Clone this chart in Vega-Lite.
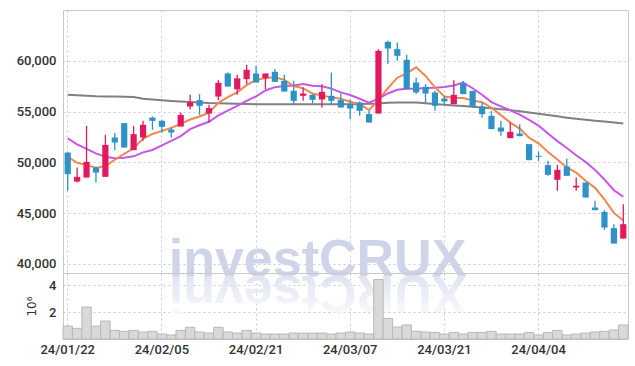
{
  "$schema": "https://vega.github.io/schema/vega-lite/v6.json",
  "padding": {"left": 12, "top": 9, "right": 8, "bottom": 0},
  "background": "white",
  "spacing": 0,
  "bounds": "flush",
  "config": {
    "view": {"stroke": "#c8c8c8", "strokeWidth": 1},
    "axis": {"labelFont": "Roboto", "labelFontSize": 13, "labelColor": "#333333", "labelFontWeight": 500, "gridColor": "#c5c9de", "gridDash": [2, 3], "gridWidth": 1, "ticks": false, "domain": false, "titleFont": "DejaVu Sans", "titleColor": "#333333"}
  },
  "datasets": {
    "k": [
      {"d":"24/01/22","o":50963,"h":51000,"l":47190,"c":48835,"v":960000,"m5":50550,"m10":52360,"g":56650},
      {"d":"24/01/23","o":48107,"h":49485,"l":48008,"c":48570,"v":790000,"m5":49950,"m10":51770,"g":56600},
      {"d":"24/01/24","o":48503,"h":53593,"l":48503,"c":50047,"v":2370000,"m5":49750,"m10":51330,"g":56560},
      {"d":"24/01/25","o":49485,"h":49584,"l":48008,"c":48993,"v":960000,"m5":49450,"m10":50880,"g":56500},
      {"d":"24/01/26","o":48570,"h":52707,"l":48570,"c":51721,"v":1330000,"m5":49633,"m10":50540,"g":56480},
      {"d":"24/01/29","o":52441,"h":52875,"l":51200,"c":51948,"v":640000,"m5":50256,"m10":50410,"g":56470},
      {"d":"24/01/30","o":53860,"h":53860,"l":51456,"c":51456,"v":570000,"m5":50833,"m10":50440,"g":56460},
      {"d":"24/01/31","o":51200,"h":53564,"l":51200,"c":52776,"v":640000,"m5":51379,"m10":50590,"g":56440},
      {"d":"24/02/01","o":52441,"h":54085,"l":52116,"c":53692,"v":520000,"m5":52319,"m10":50980,"g":56250},
      {"d":"24/02/02","o":54410,"h":54510,"l":53199,"c":54086,"v":570000,"m5":52792,"m10":51212,"g":56180},
      {"d":"24/02/05","o":54086,"h":54184,"l":52904,"c":53495,"v":370000,"m5":53101,"m10":51678,"g":56120},
      {"d":"24/02/06","o":53229,"h":53426,"l":52441,"c":52933,"v":300000,"m5":53396,"m10":52115,"g":56050},
      {"d":"24/02/07","o":53524,"h":54903,"l":53524,"c":54677,"v":640000,"m5":53777,"m10":52578,"g":55990},
      {"d":"24/02/08","o":55494,"h":56647,"l":55238,"c":55888,"v":870000,"m5":54216,"m10":53267,"g":55950},
      {"d":"24/02/13","o":56124,"h":56716,"l":54677,"c":55563,"v":520000,"m5":54511,"m10":53651,"g":55900},
      {"d":"24/02/14","o":54805,"h":55662,"l":53918,"c":55337,"v":440000,"m5":54880,"m10":53990,"g":55840},
      {"d":"24/02/15","o":56479,"h":58094,"l":56124,"c":57829,"v":870000,"m5":55859,"m10":54628,"g":55810},
      {"d":"24/02/16","o":58746,"h":58844,"l":57466,"c":57466,"v":520000,"m5":56417,"m10":55097,"g":55790},
      {"d":"24/02/19","o":57188,"h":58617,"l":56648,"c":58272,"v":440000,"m5":56893,"m10":55555,"g":55770},
      {"d":"24/02/20","o":58193,"h":59602,"l":57700,"c":59109,"v":640000,"m5":57603,"m10":56057,"g":55750},
      {"d":"24/02/21","o":58746,"h":59503,"l":57860,"c":57860,"v":440000,"m5":58107,"m10":56493,"g":55730},
      {"d":"24/02/22","o":58292,"h":58746,"l":57208,"c":58746,"v":370000,"m5":58291,"m10":57075,"g":55730},
      {"d":"24/02/23","o":58912,"h":59178,"l":57927,"c":57927,"v":370000,"m5":58383,"m10":57400,"g":55720},
      {"d":"24/02/26","o":58025,"h":58617,"l":56971,"c":56971,"v":370000,"m5":58123,"m10":57508,"g":55720},
      {"d":"24/02/27","o":57040,"h":58025,"l":55730,"c":56055,"v":440000,"m5":57512,"m10":57557,"g":55720},
      {"d":"24/02/28","o":56548,"h":57366,"l":56055,"c":56775,"v":440000,"m5":57295,"m10":57701,"g":55720},
      {"d":"24/02/29","o":56647,"h":56700,"l":55790,"c":56154,"v":440000,"m5":56776,"m10":57534,"g":55720},
      {"d":"24/03/04","o":56184,"h":57700,"l":55396,"c":56942,"v":440000,"m5":56579,"m10":57481,"g":55720},
      {"d":"24/03/05","o":56548,"h":58843,"l":55730,"c":56055,"v":370000,"m5":56396,"m10":57259,"g":55720},
      {"d":"24/03/06","o":56124,"h":56775,"l":55396,"c":55396,"v":440000,"m5":56264,"m10":56888,"g":55720},
      {"d":"24/03/07","o":55730,"h":56223,"l":54253,"c":55297,"v":520000,"m5":55969,"m10":56632,"g":55730},
      {"d":"24/03/08","o":55888,"h":56000,"l":54578,"c":55070,"v":440000,"m5":55752,"m10":56264,"g":55750},
      {"d":"24/03/11","o":54746,"h":55070,"l":53918,"c":53918,"v":370000,"m5":55147,"m10":55863,"g":55770},
      {"d":"24/03/12","o":54805,"h":61148,"l":54805,"c":60980,"v":4420000,"m5":56132,"m10":56264,"g":55800},
      {"d":"24/03/13","o":61867,"h":61966,"l":59670,"c":61207,"v":1530000,"m5":57294,"m10":56779,"g":55860},
      {"d":"24/03/14","o":61148,"h":61798,"l":59996,"c":60488,"v":890000,"m5":58333,"m10":57151,"g":55890},
      {"d":"24/03/15","o":60094,"h":60587,"l":57208,"c":57208,"v":1040000,"m5":58760,"m10":57256,"g":55890},
      {"d":"24/03/18","o":57860,"h":58351,"l":56716,"c":56875,"v":570000,"m5":59352,"m10":57249,"g":55880},
      {"d":"24/03/19","o":57434,"h":57700,"l":55888,"c":56775,"v":520000,"m5":58511,"m10":57321,"g":55820},
      {"d":"24/03/20","o":56873,"h":57040,"l":55070,"c":55563,"v":490000,"m5":57382,"m10":57338,"g":55740},
      {"d":"24/03/21","o":56283,"h":56548,"l":55632,"c":55987,"v":370000,"m5":56482,"m10":57407,"g":55670},
      {"d":"24/03/22","o":55730,"h":58094,"l":55730,"c":56647,"v":490000,"m5":56369,"m10":57565,"g":55600},
      {"d":"24/03/25","o":57761,"h":58000,"l":56716,"c":56716,"v":370000,"m5":56338,"m10":57845,"g":55540},
      {"d":"24/03/26","o":57040,"h":57040,"l":55400,"c":55494,"v":490000,"m5":56081,"m10":57296,"g":55470},
      {"d":"24/03/27","o":55494,"h":55888,"l":54411,"c":54746,"v":490000,"m5":55918,"m10":56650,"g":55400},
      {"d":"24/03/28","o":54578,"h":55070,"l":53268,"c":53268,"v":570000,"m5":55374,"m10":55928,"g":55320},
      {"d":"24/03/29","o":53426,"h":54086,"l":52608,"c":53032,"v":370000,"m5":54651,"m10":55510,"g":55230},
      {"d":"24/04/01","o":52382,"h":53918,"l":52382,"c":53002,"v":370000,"m5":53908,"m10":55123,"g":55140},
      {"d":"24/04/02","o":52835,"h":53760,"l":52579,"c":52579,"v":370000,"m5":53325,"m10":54703,"g":55040},
      {"d":"24/04/03","o":51790,"h":51790,"l":50215,"c":50215,"v":490000,"m5":52419,"m10":54169,"g":54900},
      {"d":"24/04/04","o":50638,"h":51061,"l":50145,"c":50540,"v":300000,"m5":51874,"m10":53624,"g":54780},
      {"d":"24/04/05","o":49722,"h":50145,"l":48668,"c":48767,"v":490000,"m5":51021,"m10":52836,"g":54660},
      {"d":"24/04/08","o":48274,"h":49751,"l":47190,"c":49259,"v":640000,"m5":50272,"m10":52090,"g":54530},
      {"d":"24/04/09","o":49584,"h":50372,"l":48668,"c":48668,"v":300000,"m5":49490,"m10":51408,"g":54400},
      {"d":"24/04/11","o":47516,"h":48500,"l":47190,"c":47683,"v":370000,"m5":48983,"m10":50701,"g":54290},
      {"d":"24/04/12","o":48008,"h":48008,"l":46530,"c":46530,"v":440000,"m5":48181,"m10":50028,"g":54200},
      {"d":"24/04/15","o":45546,"h":46206,"l":45290,"c":45290,"v":520000,"m5":47486,"m10":49253,"g":54100},
      {"d":"24/04/16","o":45122,"h":45290,"l":43350,"c":43576,"v":570000,"m5":46349,"m10":48311,"g":54010},
      {"d":"24/04/17","o":43516,"h":43910,"l":42000,"c":42000,"v":670000,"m5":45016,"m10":47253,"g":53920},
      {"d":"24/04/18","o":42492,"h":45880,"l":42492,"c":43910,"v":1040000,"m5":44261,"m10":46622,"g":53820}
    ]
  },
  "vconcat": [
    {
      "width": 565,
      "height": 263,
      "data": {"name": "k"},
      "encoding": {
        "x": {"field": "d", "type": "ordinal",
          "scale": {"paddingInner": 0, "paddingOuter": 0, "domain": ["24/01/22","24/01/23","24/01/24","24/01/25","24/01/26","24/01/29","24/01/30","24/01/31","24/02/01","24/02/02","24/02/05","24/02/06","24/02/07","24/02/08","24/02/13","24/02/14","24/02/15","24/02/16","24/02/19","24/02/20","24/02/21","24/02/22","24/02/23","24/02/26","24/02/27","24/02/28","24/02/29","24/03/04","24/03/05","24/03/06","24/03/07","24/03/08","24/03/11","24/03/12","24/03/13","24/03/14","24/03/15","24/03/18","24/03/19","24/03/20","24/03/21","24/03/22","24/03/25","24/03/26","24/03/27","24/03/28","24/03/29","24/04/01","24/04/02","24/04/03","24/04/04","24/04/05","24/04/08","24/04/09","24/04/11","24/04/12","24/04/15","24/04/16","24/04/17","24/04/18"]},
          "axis": {"values": ["24/01/22","24/02/05","24/02/21","24/03/07","24/03/21","24/04/04"], "labels": false, "grid": true, "bandPosition": 0.5, "title": null}}
      },
      "layer": [
        {
          "data": {"values": [{"w": "investCRUX"}]},
          "mark": {"type": "text", "font": "Liberation Sans", "fontWeight": "bold", "fontSize": 52, "color": "#cfd4e8", "align": "center", "baseline": "alphabetic", "dx": 5},
          "encoding": {"x": {"datum": "24/02/29"}, "y": {"datum": 38800, "type": "quantitative"}, "text": {"field": "w"}}
        },
        {
          "mark": {"type": "line", "color": "#808080", "strokeWidth": 2},
          "encoding": {"y": {"field": "g", "type": "quantitative",
            "scale": {"domain": [39100, 65000], "nice": false, "zero": false},
            "axis": {"values": [40000, 45000, 50000, 55000, 60000], "format": ",d", "title": null, "grid": true, "labelPadding": 7, "minExtent": 50, "maxExtent": 50}}}
        },
        {
          "mark": {"type": "line", "color": "#c855e8", "strokeWidth": 2},
          "encoding": {"y": {"field": "m10", "type": "quantitative"}}
        },
        {
          "mark": {"type": "line", "color": "#ef8750", "strokeWidth": 2},
          "encoding": {"y": {"field": "m5", "type": "quantitative"}}
        },
        {
          "mark": {"type": "rule", "strokeWidth": 1.3},
          "encoding": {"y": {"field": "l", "type": "quantitative"}, "y2": {"field": "h"},
            "color": {"condition": {"test": "datum.c >= datum.o", "value": "#e2195f"}, "value": "#2e92c7"}}
        },
        {
          "mark": {"type": "bar", "width": {"band": 0.66}},
          "encoding": {"y": {"field": "o", "type": "quantitative"}, "y2": {"field": "c"},
            "color": {"condition": {"test": "datum.c >= datum.o", "value": "#e2195f"}, "value": "#2e92c7"}}
        }
      ]
    },
    {
      "width": 565,
      "height": 66,
      "data": {"name": "k"},
      "encoding": {
        "x": {"field": "d", "type": "ordinal",
          "scale": {"paddingInner": 0, "paddingOuter": 0, "domain": ["24/01/22","24/01/23","24/01/24","24/01/25","24/01/26","24/01/29","24/01/30","24/01/31","24/02/01","24/02/02","24/02/05","24/02/06","24/02/07","24/02/08","24/02/13","24/02/14","24/02/15","24/02/16","24/02/19","24/02/20","24/02/21","24/02/22","24/02/23","24/02/26","24/02/27","24/02/28","24/02/29","24/03/04","24/03/05","24/03/06","24/03/07","24/03/08","24/03/11","24/03/12","24/03/13","24/03/14","24/03/15","24/03/18","24/03/19","24/03/20","24/03/21","24/03/22","24/03/25","24/03/26","24/03/27","24/03/28","24/03/29","24/04/01","24/04/02","24/04/03","24/04/04","24/04/05","24/04/08","24/04/09","24/04/11","24/04/12","24/04/15","24/04/16","24/04/17","24/04/18"]},
          "axis": {"values": ["24/01/22","24/02/05","24/02/21","24/03/07","24/03/21","24/04/04"], "grid": true, "bandPosition": 0.5, "labelPadding": 4, "labelAngle": 0, "title": null}}
      },
      "layer": [
        {
          "data": {"values": [{"w": "XURCtsevni"}]},
          "mark": {"type": "text", "font": "Liberation Sans", "fontWeight": "bold", "fontSize": 52, "align": "center", "baseline": "alphabetic", "angle": 180, "dx": -5,
            "color": {"gradient": "linear", "x1": 0, "y1": 0, "x2": 0, "y2": 1, "stops": [{"offset": 0, "color": "#ffffff"}, {"offset": 0.5, "color": "#eceef6"}, {"offset": 1, "color": "#dadeee"}]}},
          "encoding": {"x": {"datum": "24/02/29"}, "y": {"datum": 4670000, "type": "quantitative"}, "text": {"field": "w"}}
        },
        {
          "mark": {"type": "bar", "fill": "#d9d9d9", "stroke": "#b8b8b8", "strokeWidth": 1},
          "encoding": {"y": {"field": "v", "type": "quantitative", "scale": {"domain": [0, 4900000], "nice": false},
            "axis": {"values": [2000000, 4000000], "labelExpr": "datum.value / 1000000", "title": "10⁶", "titleFontSize": 12, "titleFontWeight": "normal", "titlePadding": 10, "grid": true, "labelPadding": 7, "minExtent": 15, "maxExtent": 15}}}
        }
      ]
    }
  ]
}
